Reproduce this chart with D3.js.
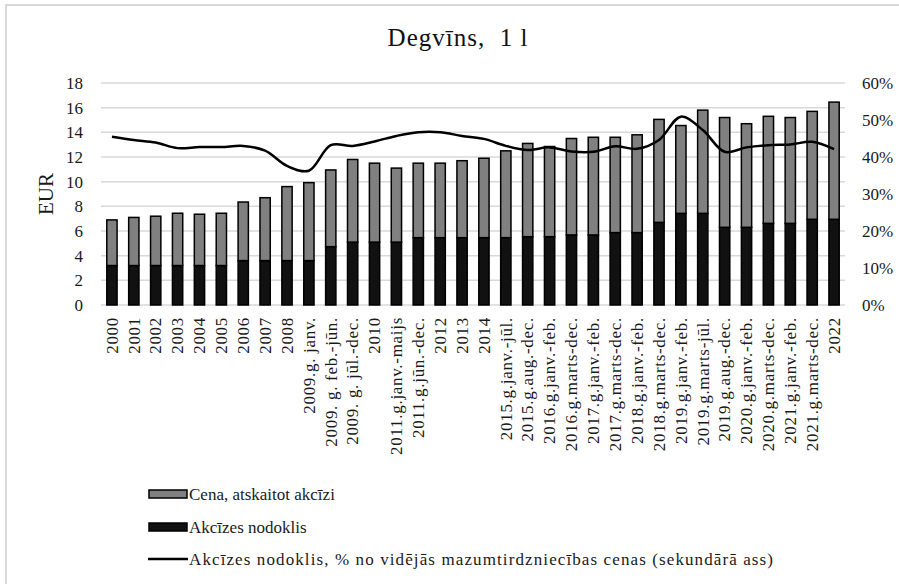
<!DOCTYPE html>
<html>
<head>
<meta charset="utf-8">
<script src="https://cdn.jsdelivr.net/npm/d3@7"></script>
<style>
  html, body { margin: 0; padding: 0; background: #fff; }
  svg { display: block; }
</style>
</head>
<body>
<svg id="chart" width="899" height="584"></svg>
<script>
// Periods shown along the x axis
const categories = [
  "2000", "2001", "2002", "2003", "2004", "2005", "2006", "2007", "2008",
  "2009.g. janv.", "2009. g. feb.-jūn.", "2009. g. jūl.-dec.", "2010",
  "2011.g.janv.-maijs", "2011.g.jūn.-dec.", "2012", "2013", "2014",
  "2015.g.janv.-jūl.", "2015.g.aug.-dec.", "2016.g.janv.-feb.", "2016.g.marts-dec.",
  "2017.g.janv.-feb.", "2017.g.marts-dec.", "2018.g.janv.-feb.", "2018.g.marts-dec.",
  "2019.g.janv.-feb.", "2019.g.marts-jūl.", "2019.g.aug.-dec.", "2020.g.janv.-feb.",
  "2020.g.marts-dec.", "2021.g.janv.-feb.", "2021.g.marts-dec.", "2022"
];

// Average retail price, EUR per litre
const totalPrice = [
  6.9, 7.1, 7.2, 7.44, 7.36, 7.44, 8.35, 8.7, 9.6,
  9.92, 10.95, 11.8, 11.5,
  11.1, 11.5, 11.5, 11.7, 11.9,
  12.5, 13.1, 12.85, 13.5,
  13.6, 13.6, 13.8, 15.05,
  14.55, 15.8, 15.2, 14.7,
  15.3, 15.2, 15.7, 16.45
];

// Excise duty, EUR per litre
const exciseTax = [
  3.2, 3.2, 3.2, 3.2, 3.2, 3.2, 3.6, 3.6, 3.6,
  3.6, 4.73, 5.1, 5.1,
  5.1, 5.46, 5.46, 5.46, 5.46,
  5.46, 5.54, 5.54, 5.68,
  5.68, 5.87, 5.87, 6.7,
  7.43, 7.43, 6.3, 6.3,
  6.62, 6.62, 6.95, 6.95
];

// Excise duty as a share of the average retail price
const exciseShare = [
  0.455, 0.446, 0.439, 0.424, 0.427, 0.427, 0.430, 0.417, 0.376,
  0.363, 0.432, 0.430, 0.442,
  0.457, 0.467, 0.467, 0.457, 0.449,
  0.430, 0.419, 0.426, 0.415,
  0.414, 0.429, 0.422, 0.446,
  0.509, 0.473, 0.414, 0.426,
  0.432, 0.434, 0.441, 0.421
];

const leftTicks = [0, 2, 4, 6, 8, 10, 12, 14, 16, 18];
const rightTicks = [0, 0.1, 0.2, 0.3, 0.4, 0.5, 0.6];

const seriesNames = [
  "Cena, atskaitot akcīzi",
  "Akcīzes nodoklis",
  "Akcīzes nodoklis, % no vidējās mazumtirdzniecības cenas (sekundārā ass)"
];

const rows = categories.map((c, i) => ({
  cat: c,
  excise: exciseTax[i],
  rest: totalPrice[i] - exciseTax[i],
  share: exciseShare[i]
}));

const FONT = "'Liberation Serif', 'Times New Roman', serif";
const svg = d3.select("#chart");
const plot = { left: 101, right: 845, top: 83, bottom: 305 };
const gray = "#808080", dark = "#111111", grid = "#d9d9d9", ink = "#1a1a1a";

// Outer chart frame
svg.append("rect")
  .attr("x", 6).attr("y", 5).attr("width", 900).attr("height", 590)
  .attr("fill", "none").attr("stroke", grid).attr("stroke-width", 2);

const x = d3.scaleBand().domain(categories)
  .range([plot.left, plot.right]).paddingInner(0.53).paddingOuter(0.265);
const y = d3.scaleLinear().domain([0, 18]).range([plot.bottom, plot.top]);
const y2 = d3.scaleLinear().domain([0, 0.6]).range([plot.bottom, plot.top]);

// Horizontal gridlines
svg.append("g").selectAll("line").data(leftTicks).join("line")
  .attr("x1", plot.left).attr("x2", plot.right)
  .attr("y1", d => y(d)).attr("y2", d => y(d))
  .attr("stroke", grid).attr("stroke-width", 1.5);

// Left axis (EUR)
const yAxis = svg.append("g").attr("transform", `translate(${plot.left},0)`)
  .call(d3.axisLeft(y).tickValues(leftTicks).tickSize(0).tickPadding(18));
yAxis.select(".domain").remove();
yAxis.selectAll("text").attr("font-size", 17).attr("fill", ink)
  .style("font-family", FONT);

// Right axis (percent)
const y2Axis = svg.append("g").attr("transform", `translate(${plot.right},0)`)
  .call(d3.axisRight(y2).tickValues(rightTicks).tickSize(0).tickPadding(17)
    .tickFormat(d3.format(".0%")));
y2Axis.select(".domain").remove();
y2Axis.selectAll("text").attr("font-size", 17).attr("fill", ink)
  .style("font-family", FONT);

// Bottom axis with rotated period labels
const xAxis = svg.append("g").attr("transform", `translate(0,${plot.bottom})`)
  .call(d3.axisBottom(x).tickSize(0).tickPadding(0));
xAxis.select(".domain").remove();
xAxis.selectAll("text")
  .attr("font-size", 17).attr("fill", ink).style("font-family", FONT)
  .attr("letter-spacing", 0.7)
  .attr("text-anchor", "end")
  .attr("transform", "rotate(-90)")
  .attr("x", -12).attr("y", 0).attr("dy", "0.34em");

// Stacked bars
const bars = svg.append("g");
bars.selectAll("rect.excise").data(rows).join("rect")
  .attr("class", "excise")
  .attr("x", d => x(d.cat)).attr("width", x.bandwidth())
  .attr("y", d => y(d.excise)).attr("height", d => y(0) - y(d.excise))
  .attr("fill", dark).attr("stroke", "#000").attr("stroke-width", 1.5);
bars.selectAll("rect.rest").data(rows).join("rect")
  .attr("class", "rest")
  .attr("x", d => x(d.cat)).attr("width", x.bandwidth())
  .attr("y", d => y(d.excise + d.rest)).attr("height", d => y(d.excise) - y(d.excise + d.rest))
  .attr("fill", gray).attr("stroke", "#000").attr("stroke-width", 1.5);

// Excise share line on the secondary axis
const line = d3.line()
  .x(d => x(d.cat) + x.bandwidth() / 2)
  .y(d => y2(d.share))
  .curve(d3.curveCatmullRom.alpha(0.5));
svg.append("path").datum(rows)
  .attr("d", line).attr("fill", "none")
  .attr("stroke", "#000").attr("stroke-width", 2.5)
  .attr("stroke-linejoin", "round");

// Title
svg.append("text").attr("x", 458).attr("y", 46)
  .attr("text-anchor", "middle").attr("font-size", 25).attr("fill", "#111")
  .attr("letter-spacing", 1)
  .style("font-family", FONT).style("white-space", "pre")
  .text("Degvīns,  1 l");

// Axis title
svg.append("text")
  .attr("transform", `translate(53,${(plot.top + plot.bottom) / 2}) rotate(-90)`)
  .attr("text-anchor", "middle").attr("font-size", 21).attr("fill", ink)
  .style("font-family", FONT)
  .text("EUR");

// Legend
const legend = svg.append("g");
const legY = [494, 527, 559];
legend.append("rect").attr("x", 149).attr("y", legY[0] - 4).attr("width", 38).attr("height", 8)
  .attr("fill", gray).attr("stroke", "#000").attr("stroke-width", 1.5);
legend.append("rect").attr("x", 149).attr("y", legY[1] - 4).attr("width", 38).attr("height", 8)
  .attr("fill", dark).attr("stroke", "#000").attr("stroke-width", 1.5);
legend.append("line").attr("x1", 148).attr("x2", 188).attr("y1", legY[2]).attr("y2", legY[2])
  .attr("stroke", "#000").attr("stroke-width", 2.5);
legend.selectAll("text").data(seriesNames).join("text")
  .attr("x", 189).attr("y", (d, i) => legY[i]).attr("dy", "0.35em")
  .attr("font-size", 17).attr("fill", ink).style("font-family", FONT)
  .each(function (d, i) {
    if (i === 2) d3.select(this).attr("textLength", 584).attr("lengthAdjust", "spacing");
  })
  .text(d => d);
</script>
</body>
</html>
